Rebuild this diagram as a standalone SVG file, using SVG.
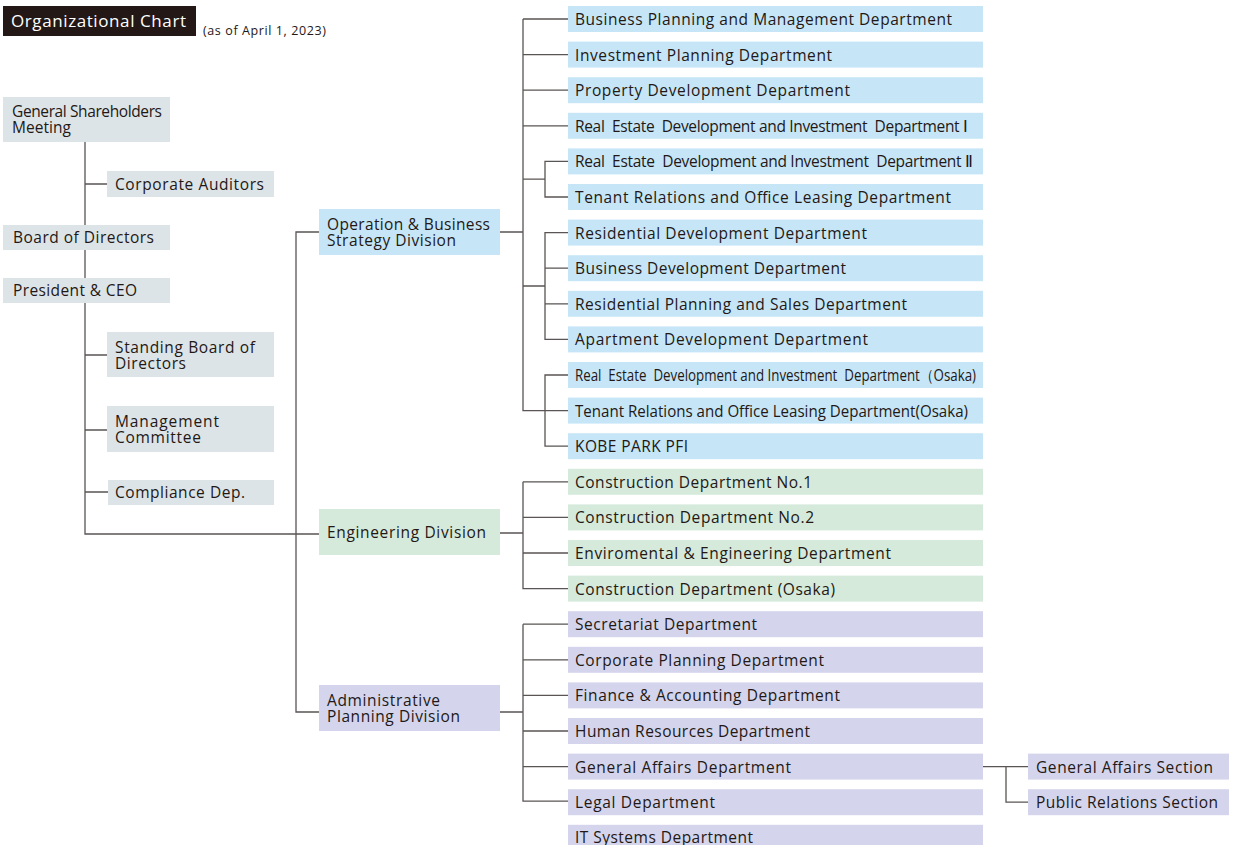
<svg xmlns="http://www.w3.org/2000/svg" width="1234" height="845" viewBox="0 0 1234 845">
<style>
text{font-family:"Open Sans","Noto Sans",sans-serif;font-size:15.5px;fill:#231815;white-space:pre}
.g rect{fill:#dde4e8}
.b rect{fill:#c6e6f8}
.e rect{fill:#d5eadb}
.p rect{fill:#d4d5ec}
.c{fill:none;stroke:#5a5454;stroke-width:1.3}
</style>
<rect x="0" y="0" width="1234" height="845" fill="#fff"/>
<g id="title">
<rect x="3" y="6" width="193" height="30" fill="#231815"/>
<text x="11" y="27" textLength="175" style="fill:#fff;font-size:17px">Organizational Chart</text>
<text x="203" y="35" textLength="123" style="font-size:12.5px">(as of April 1, 2023)</text>
</g>
<g id="connectors" class="c">
<path d="M85 142V534H319"/>
<path d="M85 184H107M85 355H107M85 430H107M85 492H108"/>
<path d="M319 232H296V712H319"/>
<path d="M500 232H523M523 19V410.6H568M523 19H568M523 54.6H568M523 90.2H568M523 125.8H568"/>
<path d="M523 179.2H545M568 161.4H545V197H568"/>
<path d="M523 286H545M568 232.6H545V339.4H568M545 268.2H568M545 303.8H568"/>
<path d="M568 375H545V446.2H568"/>
<path d="M500 533H523M523 481.8H568M523 481.8V588.6H568M523 517.4H568M523 553H568"/>
<path d="M500 712H523M523 624.2H568M523 624.2V801.2H568M523 659.8H568M523 695.4H568M523 731H568M523 766.6H568"/>
<path d="M983 766.6H1028M1006 766.6V802.2H1028"/>
</g>
<g id="shareholders" class="g"><rect x="3" y="97" width="167" height="45"/><text><tspan x="12" y="117" textLength="150">General Shareholders</tspan><tspan x="12" y="133" textLength="59">Meeting</tspan></text></g>
<g id="auditors" class="g"><rect x="107" y="171" width="167" height="26"/><text x="115" y="190" textLength="149">Corporate Auditors</text></g>
<g id="board" class="g"><rect x="3" y="225" width="167" height="25"/><text x="13" y="243" textLength="141">Board of Directors</text></g>
<g id="president" class="g"><rect x="3" y="278" width="167" height="25"/><text x="13" y="296" textLength="124">President &amp; CEO</text></g>
<g id="standing" class="g"><rect x="107" y="332" width="167" height="45"/><text><tspan x="115" y="353" textLength="140">Standing Board of</tspan><tspan x="115" y="369" textLength="71">Directors</tspan></text></g>
<g id="management" class="g"><rect x="107" y="406" width="167" height="46"/><text><tspan x="115" y="427" textLength="104">Management</tspan><tspan x="115" y="443" textLength="86">Committee</tspan></text></g>
<g id="compliance" class="g"><rect x="108" y="480" width="166" height="25"/><text x="115" y="498" textLength="130">Compliance Dep.</text></g>
<g id="div-operation" class="b"><rect x="319" y="209" width="181" height="46"/><text><tspan x="327" y="230" textLength="163">Operation &amp; Business</tspan><tspan x="327" y="246" textLength="129">Strategy Division</tspan></text></g>
<g id="div-engineering" class="e"><rect x="319" y="509" width="181" height="46"/><text x="327" y="538" textLength="159">Engineering Division</text></g>
<g id="div-admin" class="p"><rect x="319" y="685" width="181" height="46"/><text><tspan x="327" y="706" textLength="113">Administrative</tspan><tspan x="327" y="722" textLength="133">Planning Division</tspan></text></g>
<g id="d0" class="b"><rect x="568" y="6" width="415" height="26"/><text x="575" y="25" textLength="377">Business Planning and Management Department</text></g>
<g id="d1" class="b"><rect x="568" y="41.6" width="415" height="26"/><text x="575" y="60.6" textLength="257">Investment Planning Department</text></g>
<g id="d2" class="b"><rect x="568" y="77.2" width="415" height="26"/><text x="575" y="96.2" textLength="275">Property Development Department</text></g>
<g id="d3" class="b"><rect x="568" y="112.8" width="415" height="26"/><text x="575" y="131.8" textLength="393">Real  Estate  Development and Investment  Department Ⅰ</text></g>
<g id="d4" class="b"><rect x="568" y="148.4" width="415" height="26"/><text x="575" y="167.4" textLength="398">Real  Estate  Development and Investment  Department Ⅱ</text></g>
<g id="d5" class="b"><rect x="568" y="184" width="415" height="26"/><text x="575" y="203" textLength="376">Tenant Relations and Office Leasing Department</text></g>
<g id="d6" class="b"><rect x="568" y="219.6" width="415" height="26"/><text x="575" y="238.6" textLength="292">Residential Development Department</text></g>
<g id="d7" class="b"><rect x="568" y="255.2" width="415" height="26"/><text x="575" y="274.2" textLength="271">Business Development Department</text></g>
<g id="d8" class="b"><rect x="568" y="290.8" width="415" height="26"/><text x="575" y="309.8" textLength="332">Residential Planning and Sales Department</text></g>
<g id="d9" class="b"><rect x="568" y="326.4" width="415" height="26"/><text x="575" y="345.4" textLength="293">Apartment Development Department</text></g>
<g id="d10" class="b"><rect x="568" y="362" width="415" height="26"/><text x="575" y="381" textLength="401" lengthAdjust="spacingAndGlyphs">Real  Estate  Development and Investment  Department（Osaka)</text></g>
<g id="d11" class="b"><rect x="568" y="397.6" width="415" height="26"/><text x="575" y="416.6" textLength="393" lengthAdjust="spacingAndGlyphs">Tenant Relations and Office Leasing Department(Osaka)</text></g>
<g id="d12" class="b"><rect x="568" y="433.2" width="415" height="26"/><text x="575" y="452.2" textLength="113">KOBE PARK PFI</text></g>
<g id="d13" class="e"><rect x="568" y="468.8" width="415" height="26"/><text x="575" y="487.8" textLength="237">Construction Department No.1</text></g>
<g id="d14" class="e"><rect x="568" y="504.4" width="415" height="26"/><text x="575" y="523.4" textLength="239">Construction Department No.2</text></g>
<g id="d15" class="e"><rect x="568" y="540" width="415" height="26"/><text x="575" y="559" textLength="316">Enviromental &amp; Engineering Department</text></g>
<g id="d16" class="e"><rect x="568" y="575.6" width="415" height="26"/><text x="575" y="594.6" textLength="260">Construction Department (Osaka)</text></g>
<g id="d17" class="p"><rect x="568" y="611.2" width="415" height="26"/><text x="575" y="630.2" textLength="182">Secretariat Department</text></g>
<g id="d18" class="p"><rect x="568" y="646.8" width="415" height="26"/><text x="575" y="665.8" textLength="249">Corporate Planning Department</text></g>
<g id="d19" class="p"><rect x="568" y="682.4" width="415" height="26"/><text x="575" y="701.4" textLength="265">Finance &amp; Accounting Department</text></g>
<g id="d20" class="p"><rect x="568" y="718" width="415" height="26"/><text x="575" y="737" textLength="235">Human Resources Department</text></g>
<g id="d21" class="p"><rect x="568" y="753.6" width="415" height="26"/><text x="575" y="772.6" textLength="216">General Affairs Department</text></g>
<g id="d22" class="p"><rect x="568" y="789.2" width="415" height="26"/><text x="575" y="808.2" textLength="140">Legal Department</text></g>
<g id="d23" class="p"><rect x="568" y="824.8" width="415" height="26"/><text x="575" y="842.5" textLength="178">IT Systems Department</text></g>
<g id="s1" class="p"><rect x="1028" y="753.6" width="201" height="26"/><text x="1036" y="772.6" textLength="177">General Affairs Section</text></g>
<g id="s2" class="p"><rect x="1028" y="789.2" width="201" height="26"/><text x="1036" y="808.2" textLength="182">Public Relations Section</text></g>
</svg>
